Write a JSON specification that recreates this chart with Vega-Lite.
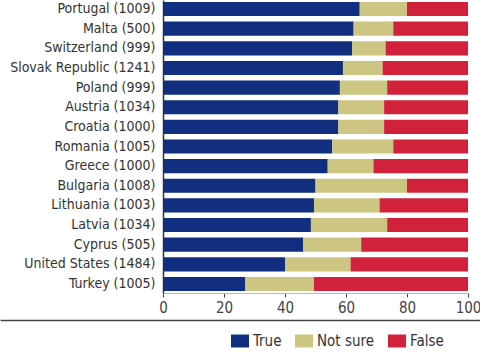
{
  "$schema": "https://vega.github.io/schema/vega-lite/v6.json",
  "width": 305,
  "height": 293,
  "autosize": {"type": "none"},
  "padding": {"left": 163, "top": 0, "right": 12, "bottom": 67},
  "background": "white",
  "config": {
    "view": {"stroke": null},
    "font": "DejaVu Sans Condensed, Roboto Condensed, Roboto"
  },
  "data": {
    "values": [
      {"country": "Portugal (1009)", "True": 64.5, "Not sure": 15.5, "False": 20},
      {"country": "Malta (500)", "True": 62.5, "Not sure": 13, "False": 24.5},
      {"country": "Switzerland (999)", "True": 62, "Not sure": 11, "False": 27},
      {"country": "Slovak Republic (1241)", "True": 59, "Not sure": 13, "False": 28},
      {"country": "Poland (999)", "True": 58, "Not sure": 15.5, "False": 26.5},
      {"country": "Austria (1034)", "True": 57.5, "Not sure": 15, "False": 27.5},
      {"country": "Croatia (1000)", "True": 57.5, "Not sure": 15, "False": 27.5},
      {"country": "Romania (1005)", "True": 55.5, "Not sure": 20, "False": 24.5},
      {"country": "Greece (1000)", "True": 54, "Not sure": 15, "False": 31},
      {"country": "Bulgaria (1008)", "True": 50, "Not sure": 30, "False": 20},
      {"country": "Lithuania (1003)", "True": 49.5, "Not sure": 21.5, "False": 29},
      {"country": "Latvia (1034)", "True": 48.5, "Not sure": 25, "False": 26.5},
      {"country": "Cyprus (505)", "True": 46, "Not sure": 19, "False": 35},
      {"country": "United States (1484)", "True": 40, "Not sure": 21.5, "False": 38.5},
      {"country": "Turkey (1005)", "True": 27, "Not sure": 22.5, "False": 50.5}
    ]
  },
  "transform": [{"fold": ["True", "Not sure", "False"], "as": ["answer", "value"]}],
  "layer": [
    {
      "mark": {"type": "bar"},
      "encoding": {
        "y": {
          "field": "country",
          "type": "nominal",
          "sort": null,
          "scale": {"paddingInner": 0.28, "paddingOuter": 0.1},
          "axis": {
            "title": null,
            "ticks": false,
            "domain": true,
            "domainColor": "#333333",
            "domainWidth": 1.5,
            "labelPadding": 8,
            "labelFontSize": 14,
            "labelColor": "#333333",
            "labelLimit": 200
          }
        },
        "x": {
          "field": "value",
          "type": "quantitative",
          "stack": "zero",
          "scale": {"domain": [0, 100], "nice": false},
          "axis": {
            "title": null,
            "values": [0, 20, 40, 60, 80, 100],
            "grid": false,
            "labelFlush": false,
            "domainColor": "#bbbbbb",
            "domainWidth": 1,
            "tickColor": "#444444",
            "tickSize": 4,
            "labelPadding": 3,
            "labelFontSize": 15,
            "labelColor": "#444444"
          }
        },
        "color": {
          "field": "answer",
          "type": "nominal",
          "scale": {
            "domain": ["True", "Not sure", "False"],
            "range": ["#112f7e", "#ccc682", "#d1213b"]
          },
          "legend": {
            "title": null,
            "orient": "none",
            "direction": "horizontal",
            "legendX": 68,
            "legendY": 332,
            "padding": 0,
            "columnPadding": 13,
            "labelOffset": 4,
            "labelFontSize": 15,
            "labelColor": "#333333",
            "symbolType": "M-1,-0.72H1V0.72H-1Z",
            "symbolSize": 324,
            "symbolStrokeWidth": 0
          }
        },
        "order": {"field": "answer", "sort": "descending"}
      }
    },
    {
      "mark": {"type": "point", "opacity": 0},
      "encoding": {
        "y": {"field": "country", "type": "nominal", "sort": null},
        "x": {
          "field": "value",
          "type": "quantitative",
          "scale": {"domain": [0, 100], "range": [-163, 317], "nice": false},
          "axis": {
            "orient": "bottom",
            "offset": 27,
            "title": null,
            "labels": false,
            "ticks": false,
            "grid": false,
            "domain": true,
            "domainColor": "#444444",
            "domainWidth": 1.5
          }
        }
      }
    }
  ],
  "resolve": {"scale": {"x": "independent"}, "axis": {"x": "independent"}}
}
